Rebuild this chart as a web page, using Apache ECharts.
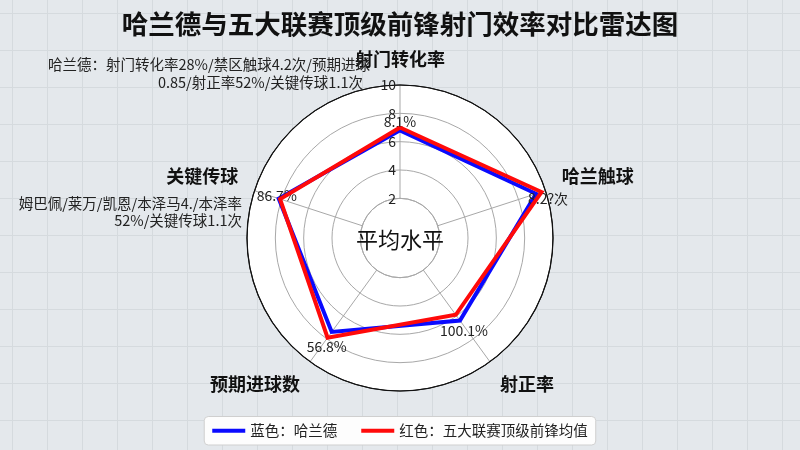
<!DOCTYPE html>
<html>
<head>
<meta charset="utf-8">
<script src="https://cdn.jsdelivr.net/npm/echarts@6/dist/echarts.min.js"></script>
<style>
  html, body { margin: 0; padding: 0; }
  #main {
    width: 800px; height: 450px;
    background-color: #e4e8ec;
    background-image:
      linear-gradient(#d5dade 1px, transparent 1px),
      linear-gradient(90deg, #d5dade 1px, transparent 1px);
    background-size: 35px 37px;
    background-position: 12px 13px;
  }
</style>
</head>
<body>
<div id="main"></div>
<script>
// 数据
var indicators = ['射门转化率', '哈兰触球', '射正率', '预期进球数', '关键传球'];
var haalandValues = [6.8, 9.3, 6.4, 7.4, 8.2];
var averageValues = [7.0, 9.7, 5.9, 7.9, 8.1];
var radiusTicks = [2, 4, 6, 8, 10];
var pointLabels = ['8.1%', '8.2?次', '100.1%', '56.8%', '86.7%'];
var seriesNames = ['蓝色：哈兰德', '红色：五大联赛顶级前锋均值'];

// 标签偏移 (样式)
var labelOffsets = [[0, -9], [12, 5], [4, 10], [-5, 15], [-2, -3]];

var FONT = '"Noto Sans CJK SC", "Noto Sans", sans-serif';
var STEP = 360 / indicators.length;
var CX = 400, CY = 238, R = 153;

function closeLoop(values, withLabels) {
  var pts = values.map(function (v, i) {
    var item = { value: [v, i * STEP] };
    if (withLabels) {
      item.label = {
        show: true,
        position: 'inside',
        offset: labelOffsets[i],
        formatter: pointLabels[i]
      };
    }
    return item;
  });
  pts.push({ value: [values[0], 360] });
  return pts;
}

var chart = echarts.init(document.getElementById('main'));
var option = {
  backgroundColor: 'transparent',
  textStyle: { fontFamily: FONT },
  title: {
    text: '哈兰德与五大联赛顶级前锋射门效率对比雷达图',
    left: 'center',
    top: 6,
    textStyle: { fontSize: 26.5, fontWeight: 'bold', color: '#111', fontFamily: FONT }
  },
  legend: {
    bottom: 5,
    left: 'center',
    data: seriesNames,
    icon: 'rect',
    itemWidth: 33,
    itemHeight: 4,
    itemGap: 24,
    backgroundColor: '#fdfdfd',
    borderColor: '#cfcfcf',
    borderWidth: 1,
    borderRadius: 4,
    padding: [7, 8, 7, 8],
    textStyle: { fontSize: 14.5, color: '#222', fontFamily: FONT }
  },
  polar: {
    center: [CX, CY],
    radius: R
  },
  angleAxis: {
    type: 'value',
    min: 0,
    max: 360,
    interval: STEP,
    startAngle: 90,
    clockwise: true,
    z: 0,
    axisLine: { show: true, lineStyle: { color: '#111', width: 1.2 } },
    axisTick: { show: false },
    axisLabel: {
      show: true,
      margin: 17,
      fontSize: 18,
      fontWeight: 'bold',
      color: '#111',
      fontFamily: FONT,
      formatter: function (v) {
        var i = Math.round(v / STEP);
        return i < indicators.length ? indicators[i] : '';
      }
    },
    splitLine: { show: true, lineStyle: { color: '#a8a8a8', width: 1 } },
    splitArea: { show: false }
  },
  radiusAxis: {
    type: 'value',
    min: -0.8,
    max: 10,
    z: 1.5,
    axisLine: { show: false },
    axisTick: { show: false, customValues: radiusTicks },
    axisLabel: {
      show: true,
      customValues: radiusTicks,
      fontSize: 14,
      color: '#222',
      margin: 4,
      fontFamily: FONT
    },
    splitLine: {
      show: true,
      lineStyle: { color: ['#a8a8a8', '#a8a8a8', '#a8a8a8', '#a8a8a8', '#111'], width: 1 }
    }
  },
  series: [
    {
      name: seriesNames[0],
      type: 'line',
      coordinateSystem: 'polar',
      data: closeLoop(haalandValues, true),
      symbol: 'circle',
      symbolSize: 1,
      color: '#0a0aff',
      lineStyle: { width: 4, color: '#0a0aff', join: 'miter' },
      label: { fontSize: 14, color: '#222', fontFamily: FONT },
      z: 2
    },
    {
      name: seriesNames[1],
      type: 'line',
      coordinateSystem: 'polar',
      data: closeLoop(averageValues, false),
      symbol: 'circle',
      symbolSize: 1,
      color: '#ff0a0a',
      lineStyle: { width: 4, color: '#ff0a0a', join: 'miter' },
      z: 3
    }
  ],
  graphic: [
    {
      type: 'text',
      left: 48,
      top: 57,
      z: 5,
      style: {
        text: '哈兰德：射门转化率28%/禁区触球4.2次/预期进球',
        fontSize: 14.5,
        fill: '#222',
        fontFamily: FONT
      }
    },
    {
      type: 'text',
      right: 437,
      top: 75,
      z: 5,
      style: {
        text: '0.85/射正率52%/关键传球1.1次',
        fontSize: 14.5,
        fill: '#222',
        fontFamily: FONT
      }
    },
    {
      type: 'text',
      right: 558,
      top: 196,
      z: 5,
      style: {
        text: '姆巴佩/莱万/凯恩/本泽马4./本泽率',
        fontSize: 14.5,
        fill: '#222',
        fontFamily: FONT
      }
    },
    {
      type: 'text',
      right: 558,
      top: 213,
      z: 5,
      style: {
        text: '52%/关键传球1.1次',
        fontSize: 14.5,
        fill: '#222',
        fontFamily: FONT
      }
    }
  ]
};
chart.setOption(option);

// 白色极坐标底面与中心“平均水平”圆，半径取自径向轴
function radiusAt(v) {
  var p = chart.convertToPixel({ polarIndex: 0 }, [v, 0]);
  return Math.sqrt(Math.pow(p[0] - CX, 2) + Math.pow(p[1] - CY, 2));
}
var outerR = radiusAt(radiusTicks[radiusTicks.length - 1]);
var innerR = radiusAt(radiusTicks[0]);
chart.setOption({
  graphic: [
    {
      type: 'circle',
      id: 'disk',
      shape: { cx: CX, cy: CY, r: outerR },
      style: { fill: '#ffffff' },
      z: -1
    },
    {
      type: 'circle',
      id: 'inner',
      shape: { cx: CX, cy: CY, r: innerR },
      style: { fill: '#ffffff', stroke: '#a8a8a8', lineWidth: 1 },
      z: 1
    },
    {
      type: 'text',
      id: 'innerText',
      x: CX,
      y: 240,
      z: 4,
      style: {
        text: '平均水平',
        fontSize: 22,
        fill: '#111',
        align: 'center',
        verticalAlign: 'middle',
        fontFamily: FONT
      }
    }
  ]
});
</script>
</body>
</html>
